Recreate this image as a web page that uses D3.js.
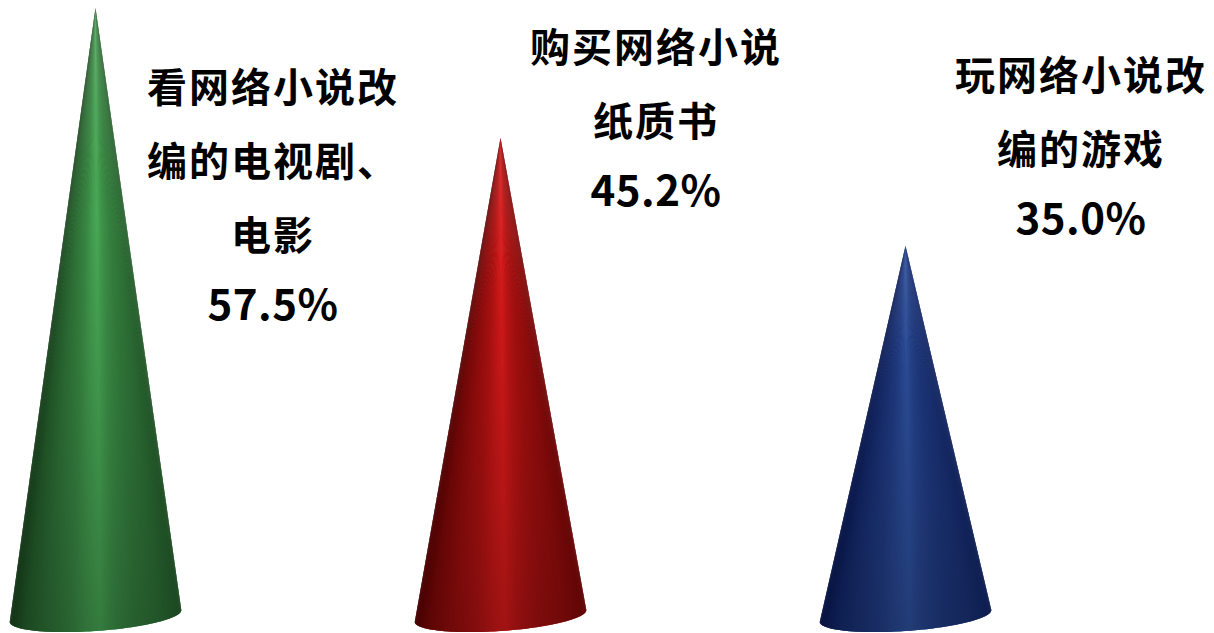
<!DOCTYPE html>
<html>
<head>
<meta charset="utf-8">
<script src="https://cdn.jsdelivr.net/npm/d3@7"></script>
<style>
    html, body { margin: 0; padding: 0; background: #fff; }
    svg { display: block; }
</style>
</head>
<body>
<svg id="chart" width="1214" height="633"></svg>
<script>
// chart data
const categories = ["看网络小说改编的电视剧、电影", "购买网络小说纸质书", "玩网络小说改编的游戏"]
const values = [57.5, 45.2, 35.0]
const labelLines = [
    ["看网络小说改", "编的电视剧、", "电影"],
    ["购买网络小说", "纸质书"],
    ["玩网络小说改", "编的游戏"]
]
const darkColors = ["#163f1a", "#560000", "#061552"]
const lightColors = ["#48a855", "#dc1a1a", "#2f52a2"]

// label placement (center x, baseline of first line)
const labelX = [273, 656, 1081]
const labelY = [102, 62, 90]

const W = 1214, H = 633
const svg = d3.select("#chart")
const defs = svg.append("defs")

const x = d3.scaleBand()
    .domain(categories)
    .range([-107, 1108])
    .padding(0)

const y = d3.scaleLinear()
    .domain([0, d3.max(values)])
    .range([616, 8])

const rx = 86, ry = 15
const tilt = -4 * Math.PI / 180

// shading across the cone (0 = left edge, 1 = right edge)
const shade = d3.scaleLinear()
    .domain([0, 0.08, 0.2, 0.34, 0.45, 0.52, 0.6, 0.72, 0.86, 1])
    .range([0.05, 0.3, 0.5, 0.68, 0.9, 1.0, 0.8, 0.62, 0.5, 0.3])

// bottom darkening overlay
const vg = defs.append("linearGradient")
    .attr("id", "vfade")
    .attr("gradientUnits", "userSpaceOnUse")
    .attr("x1", 0).attr("y1", 0).attr("x2", 0).attr("y2", H)
vg.append("stop").attr("offset", 0).attr("stop-color", "#fff").attr("stop-opacity", 0.05)
vg.append("stop").attr("offset", 0.35).attr("stop-color", "#000").attr("stop-opacity", 0)
vg.append("stop").attr("offset", 1).attr("stop-color", "#000").attr("stop-opacity", 0.27)

const basePoint = (cx, cy, th) => {
    const ex = rx * Math.cos(th), ey = ry * Math.sin(th)
    return [cx + ex * Math.cos(tilt) - ey * Math.sin(tilt),
            cy + ex * Math.sin(tilt) + ey * Math.cos(tilt)]
}

const N = 120
categories.forEach((c, i) => {
    const cx = x(c) + x.bandwidth() / 2
    const cy = y(0)
    const apex = [cx, y(values[i])]
    const col = d3.interpolateRgb(darkColors[i], lightColors[i])

    // from left end (theta = pi) round the front to the right end (theta = 0)
    const pts = d3.range(N + 1).map(k => basePoint(cx, cy, Math.PI - k / N * Math.PI))

    const g = svg.append("g").attr("class", "cone")
    // overlapping slices so no seams show
    g.selectAll("path.slice")
        .data(d3.range(N))
        .join("path")
        .attr("class", "slice")
        .attr("d", k => d3.line()([apex, pts[k], pts[Math.min(k + 2, N)]]) + "Z")
        .attr("fill", k => {
            const t = (1 - Math.cos(Math.PI - (k + 0.5) / N * Math.PI)) / 2
            return col(shade(1 - t))
        })

    g.append("path")
        .attr("d", d3.line()([apex, ...pts]) + "Z")
        .attr("fill", "url(#vfade)")
})

// labels
const labels = svg.append("g")
    .attr("font-family", "'Noto Sans CJK SC', 'Noto Sans', sans-serif")
    .attr("font-weight", 700)
    .attr("font-size", 40)
    .attr("text-anchor", "middle")
    .attr("fill", "#000")

categories.forEach((c, i) => {
    const lines = [...labelLines[i], d3.format(".1f")(values[i]) + "%"]
    const last = lines.length - 1
    const t = labels.append("text")
        .attr("x", labelX[i])
        .attr("y", labelY[i])
    t.selectAll("tspan")
        .data(lines)
        .join("tspan")
        .attr("x", labelX[i])
        .attr("dy", (d, k) => k === 0 ? 0 : (k === last ? 70 : 74))
        .attr("font-size", (d, k) => k === last ? 42 : null)
        .attr("letter-spacing", (d, k) => k < last ? 2 : 0.5)
        .text(d => d)
})
</script>
</body>
</html>
